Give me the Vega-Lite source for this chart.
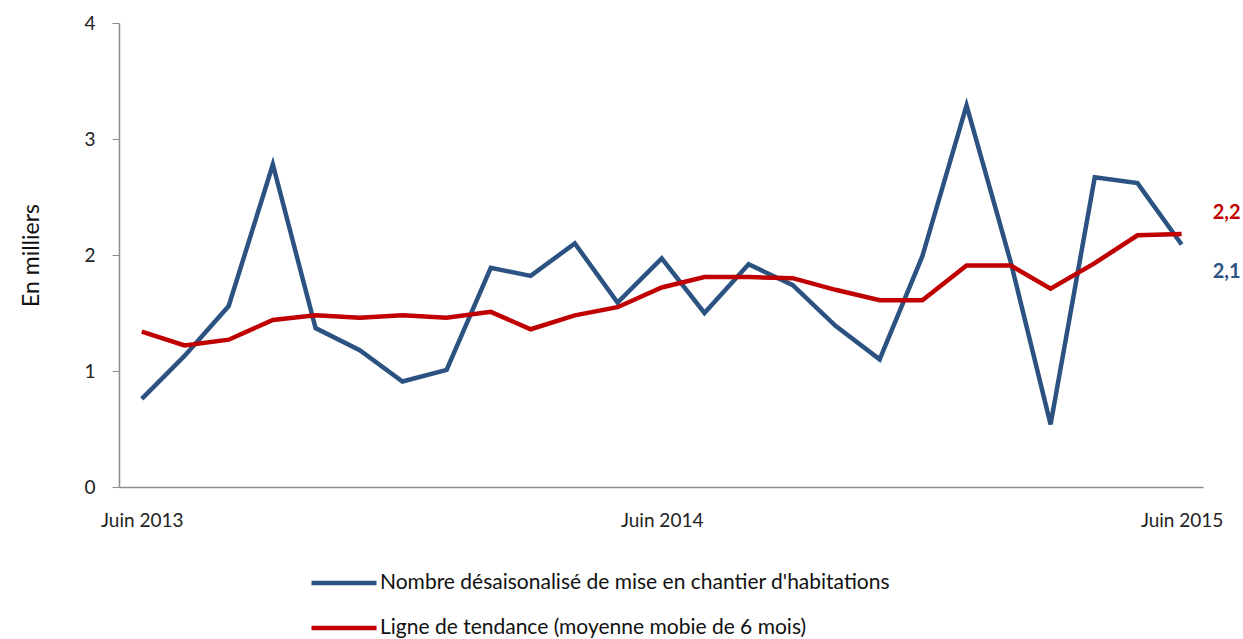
{
  "$schema": "https://vega.github.io/schema/vega-lite/v6.json",
  "autosize": {"type": "none"},
  "width": 1084,
  "height": 464,
  "padding": {"left": 119, "top": 23, "right": 40, "bottom": 152},
  "background": "white",
  "config": {
    "view": {"stroke": null},
    "font": "Lato",
    "text": {"font": "Lato"}
  },
  "datasets": {
    "series": [
      {"mois": "2013-06-01", "serie": "Nombre désaisonalisé de mise en chantier d'habitations", "valeur": 0.76},
      {"mois": "2013-07-01", "serie": "Nombre désaisonalisé de mise en chantier d'habitations", "valeur": 1.13},
      {"mois": "2013-08-01", "serie": "Nombre désaisonalisé de mise en chantier d'habitations", "valeur": 1.56},
      {"mois": "2013-09-01", "serie": "Nombre désaisonalisé de mise en chantier d'habitations", "valeur": 2.78},
      {"mois": "2013-10-01", "serie": "Nombre désaisonalisé de mise en chantier d'habitations", "valeur": 1.37},
      {"mois": "2013-11-01", "serie": "Nombre désaisonalisé de mise en chantier d'habitations", "valeur": 1.18},
      {"mois": "2013-12-01", "serie": "Nombre désaisonalisé de mise en chantier d'habitations", "valeur": 0.91},
      {"mois": "2014-01-01", "serie": "Nombre désaisonalisé de mise en chantier d'habitations", "valeur": 1.01},
      {"mois": "2014-02-01", "serie": "Nombre désaisonalisé de mise en chantier d'habitations", "valeur": 1.89},
      {"mois": "2014-03-01", "serie": "Nombre désaisonalisé de mise en chantier d'habitations", "valeur": 1.82},
      {"mois": "2014-04-01", "serie": "Nombre désaisonalisé de mise en chantier d'habitations", "valeur": 2.10},
      {"mois": "2014-05-01", "serie": "Nombre désaisonalisé de mise en chantier d'habitations", "valeur": 1.59},
      {"mois": "2014-06-01", "serie": "Nombre désaisonalisé de mise en chantier d'habitations", "valeur": 1.97},
      {"mois": "2014-07-01", "serie": "Nombre désaisonalisé de mise en chantier d'habitations", "valeur": 1.50},
      {"mois": "2014-08-01", "serie": "Nombre désaisonalisé de mise en chantier d'habitations", "valeur": 1.92},
      {"mois": "2014-09-01", "serie": "Nombre désaisonalisé de mise en chantier d'habitations", "valeur": 1.74},
      {"mois": "2014-10-01", "serie": "Nombre désaisonalisé de mise en chantier d'habitations", "valeur": 1.39},
      {"mois": "2014-11-01", "serie": "Nombre désaisonalisé de mise en chantier d'habitations", "valeur": 1.10},
      {"mois": "2014-12-01", "serie": "Nombre désaisonalisé de mise en chantier d'habitations", "valeur": 1.99},
      {"mois": "2015-01-01", "serie": "Nombre désaisonalisé de mise en chantier d'habitations", "valeur": 3.29},
      {"mois": "2015-02-01", "serie": "Nombre désaisonalisé de mise en chantier d'habitations", "valeur": 1.94},
      {"mois": "2015-03-01", "serie": "Nombre désaisonalisé de mise en chantier d'habitations", "valeur": 0.54},
      {"mois": "2015-04-01", "serie": "Nombre désaisonalisé de mise en chantier d'habitations", "valeur": 2.67},
      {"mois": "2015-05-01", "serie": "Nombre désaisonalisé de mise en chantier d'habitations", "valeur": 2.62},
      {"mois": "2015-06-01", "serie": "Nombre désaisonalisé de mise en chantier d'habitations", "valeur": 2.09},
      {"mois": "2013-06-01", "serie": "Ligne de tendance (moyenne mobie de 6 mois)", "valeur": 1.34},
      {"mois": "2013-07-01", "serie": "Ligne de tendance (moyenne mobie de 6 mois)", "valeur": 1.22},
      {"mois": "2013-08-01", "serie": "Ligne de tendance (moyenne mobie de 6 mois)", "valeur": 1.27},
      {"mois": "2013-09-01", "serie": "Ligne de tendance (moyenne mobie de 6 mois)", "valeur": 1.44},
      {"mois": "2013-10-01", "serie": "Ligne de tendance (moyenne mobie de 6 mois)", "valeur": 1.48},
      {"mois": "2013-11-01", "serie": "Ligne de tendance (moyenne mobie de 6 mois)", "valeur": 1.46},
      {"mois": "2013-12-01", "serie": "Ligne de tendance (moyenne mobie de 6 mois)", "valeur": 1.48},
      {"mois": "2014-01-01", "serie": "Ligne de tendance (moyenne mobie de 6 mois)", "valeur": 1.46},
      {"mois": "2014-02-01", "serie": "Ligne de tendance (moyenne mobie de 6 mois)", "valeur": 1.51},
      {"mois": "2014-03-01", "serie": "Ligne de tendance (moyenne mobie de 6 mois)", "valeur": 1.36},
      {"mois": "2014-04-01", "serie": "Ligne de tendance (moyenne mobie de 6 mois)", "valeur": 1.48},
      {"mois": "2014-05-01", "serie": "Ligne de tendance (moyenne mobie de 6 mois)", "valeur": 1.55},
      {"mois": "2014-06-01", "serie": "Ligne de tendance (moyenne mobie de 6 mois)", "valeur": 1.72},
      {"mois": "2014-07-01", "serie": "Ligne de tendance (moyenne mobie de 6 mois)", "valeur": 1.81},
      {"mois": "2014-08-01", "serie": "Ligne de tendance (moyenne mobie de 6 mois)", "valeur": 1.81},
      {"mois": "2014-09-01", "serie": "Ligne de tendance (moyenne mobie de 6 mois)", "valeur": 1.80},
      {"mois": "2014-10-01", "serie": "Ligne de tendance (moyenne mobie de 6 mois)", "valeur": 1.70},
      {"mois": "2014-11-01", "serie": "Ligne de tendance (moyenne mobie de 6 mois)", "valeur": 1.61},
      {"mois": "2014-12-01", "serie": "Ligne de tendance (moyenne mobie de 6 mois)", "valeur": 1.61},
      {"mois": "2015-01-01", "serie": "Ligne de tendance (moyenne mobie de 6 mois)", "valeur": 1.91},
      {"mois": "2015-02-01", "serie": "Ligne de tendance (moyenne mobie de 6 mois)", "valeur": 1.91},
      {"mois": "2015-03-01", "serie": "Ligne de tendance (moyenne mobie de 6 mois)", "valeur": 1.71},
      {"mois": "2015-04-01", "serie": "Ligne de tendance (moyenne mobie de 6 mois)", "valeur": 1.93},
      {"mois": "2015-05-01", "serie": "Ligne de tendance (moyenne mobie de 6 mois)", "valeur": 2.17},
      {"mois": "2015-06-01", "serie": "Ligne de tendance (moyenne mobie de 6 mois)", "valeur": 2.18}
    ],
    "etiquettes": [
      {"mois": "2015-06-01", "serie": "Ligne de tendance (moyenne mobie de 6 mois)", "valeur": 2.18, "texte": "2,2"},
      {"mois": "2015-06-01", "serie": "Nombre désaisonalisé de mise en chantier d'habitations", "valeur": 2.09, "texte": "2,1"}
    ]
  },
  "layer": [
    {
      "data": {"name": "series"},
      "mark": {"type": "line", "strokeWidth": 4.5, "strokeJoin": "miter", "strokeCap": "butt"},
      "encoding": {
        "x": {
          "field": "mois", "type": "temporal",
          "scale": {"type": "utc", "domain": [{"year": 2013, "month": 5, "date": 16, "utc": true}, {"year": 2015, "month": 6, "date": 16, "utc": true}]},
          "axis": {
            "title": null,
            "values": [{"year": 2013, "month": 6, "date": 1, "utc": true}, {"year": 2014, "month": 6, "date": 1, "utc": true}, {"year": 2015, "month": 6, "date": 1, "utc": true}],
            "labelExpr": "'Juin ' + utcFormat(datum.value, '%Y')",
            "ticks": false,
            "grid": false,
            "domainColor": "#8c8c8c",
            "domainWidth": 1.5,
            "labelFontSize": 19,
            "labelColor": "#222222",
            "labelPadding": 24,
            "labelFlush": false,
            "labelOverlap": false
          }
        },
        "y": {
          "field": "valeur", "type": "quantitative",
          "scale": {"domain": [0, 4], "nice": false},
          "axis": {
            "title": "En milliers",
            "titleFontSize": 23,
            "titleFontWeight": "normal",
            "titleColor": "#111111",
            "titlePadding": 40,
            "values": [0, 1, 2, 3, 4],
            "format": "d",
            "grid": false,
            "tickSize": 7,
            "tickColor": "#8c8c8c",
            "domainColor": "#8c8c8c",
            "domainWidth": 1.5,
            "labelFontSize": 19,
            "labelColor": "#222222",
            "labelPadding": 17
          }
        },
        "color": {
          "field": "serie", "type": "nominal",
          "scale": {
            "domain": ["Nombre désaisonalisé de mise en chantier d'habitations", "Ligne de tendance (moyenne mobie de 6 mois)"],
            "range": ["#2C5282", "#C00000"]
          },
          "legend": {
            "title": null,
            "orient": "none",
            "legendX": 190,
            "legendY": 525,
            "direction": "vertical",
            "symbolType": "stroke",
            "symbolSize": 4225,
            "symbolStrokeWidth": 4.5,
            "labelFontSize": 21,
            "labelColor": "#111111",
            "labelOffset": 1,
            "labelLimit": 800,
            "rowPadding": -23
          }
        }
      }
    },
    {
      "data": {"name": "etiquettes"},
      "transform": [{"filter": "datum.texte == '2,2'"}],
      "mark": {"type": "text", "fontSize": 20, "fontWeight": "bold", "align": "center", "baseline": "middle", "dx": 45, "dy": -21},
      "encoding": {
        "x": {"field": "mois", "type": "temporal"},
        "y": {"field": "valeur", "type": "quantitative"},
        "text": {"field": "texte"},
        "color": {"field": "serie", "type": "nominal", "legend": null}
      }
    },
    {
      "data": {"name": "etiquettes"},
      "transform": [{"filter": "datum.texte == '2,1'"}],
      "mark": {"type": "text", "fontSize": 20, "fontWeight": "bold", "align": "center", "baseline": "middle", "dx": 45, "dy": 27},
      "encoding": {
        "x": {"field": "mois", "type": "temporal"},
        "y": {"field": "valeur", "type": "quantitative"},
        "text": {"field": "texte"},
        "color": {"field": "serie", "type": "nominal", "legend": null}
      }
    }
  ]
}
